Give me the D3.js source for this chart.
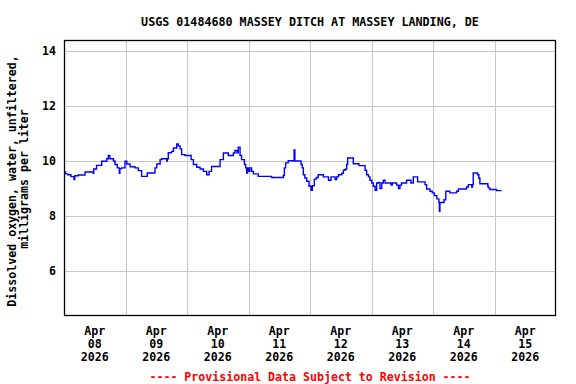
<!DOCTYPE html>
<html>
<head>
<meta charset="utf-8">
<script src="https://cdn.jsdelivr.net/npm/d3@7"></script>
<style>
  html, body { margin: 0; padding: 0; background: #fff; }
  svg text { font-family: "DejaVu Sans Mono", "Liberation Mono", monospace; font-weight: bold; }
</style>
</head>
<body>
<svg id="chart" width="576" height="384"></svg>
<script>
// ---- data ----
const titleText = "USGS 01484680 MASSEY DITCH AT MASSEY LANDING, DE";
const yLabelLines = ["Dissolved oxygen, water, unfiltered,", "milligrams per liter"];
const footerText = "---- Provisional Data Subject to Revision ----";
const startDate = "2026-04-08T00:00:00";
const endDate = "2026-04-16T00:00:00";
const dayLabels = ["Apr\n08\n2026", "Apr\n09\n2026", "Apr\n10\n2026", "Apr\n11\n2026",
                   "Apr\n12\n2026", "Apr\n13\n2026", "Apr\n14\n2026", "Apr\n15\n2026"];
const yTicks = [6, 8, 10, 12, 14];
const yDomain = [4.36, 14.4];
// hours since Apr 08 00:00
const hours = [0, 0.6, 1.5, 2.7, 3.9, 4.2, 5.6, 8.2, 11.4, 11.6, 12.7, 14.7, 16.7, 17.3, 17.9, 19.3, 19.9, 20.8, 21.6, 21.8,
  22.5, 23.8, 24.5, 25.8, 27.7, 29, 30.3, 32.5, 35.5, 36.2, 37.5, 38.1, 40.1, 40.3, 40.7, 42, 42.7, 44, 44.6, 45.3,
  45.9, 47.2, 49.6, 50.5, 51.8, 53.1, 54.4, 55.7, 56.6, 57.6, 60.9, 62.2, 64.1, 66.1, 66.7, 67.5, 68, 68.7, 69.3, 70.4,
  70.9, 71.3, 71.6, 71.9, 72.5, 73.2, 73.9, 75.8, 81, 85.6, 86, 86.5, 87.5, 89.5, 89.8, 90.1, 90.8, 92.5, 93, 93.4,
  94, 94.7, 95.6, 96.4, 96.9, 97.7, 98.5, 99.2, 101.2, 103.2, 104.2, 105.8, 106.4, 107.1, 108.4, 109, 109.7, 110.3, 110.7, 112.9,
  115.1, 117.5, 118.1, 118.8, 119.4, 120.1, 120.7, 121.4, 122, 122.7, 123.3, 124, 124.6, 125.3, 127.6, 128.1, 129.8, 130.5, 131.1, 131.7,
  133.7, 135.4, 136.3, 137.2, 138, 140.2, 140.9, 141.5, 142.8, 143.7, 144.5, 145.5, 146.3, 146.5, 146.7, 148, 148.3, 149, 150.6, 153.2,
  153.9, 157.1, 157.8, 159.1, 159.4, 159.7, 161.1, 161.4, 161.9, 162.3, 164.3, 165.4, 165.6, 166.2, 168.8, 170.8];
const oxygen = [9.6, 9.53, 9.5, 9.43, 9.32, 9.46, 9.49, 9.6, 9.55, 9.71, 9.84, 9.99, 10.08, 10.2, 10.08, 10.0, 9.87, 9.75, 9.55, 9.72,
  9.75, 9.99, 9.89, 9.79, 9.75, 9.65, 9.44, 9.56, 9.75, 9.89, 10.05, 10.08, 10.0, 10.08, 10.3, 10.35, 10.47, 10.62, 10.55, 10.44,
  10.23, 10.2, 10.05, 9.87, 9.77, 9.71, 9.62, 9.5, 9.62, 9.8, 10.05, 10.29, 10.2, 10.29, 10.38, 10.3, 10.5, 10.2, 10.05, 9.87,
  9.75, 9.56, 9.75, 9.62, 9.75, 9.62, 9.53, 9.44, 9.4, 9.47, 9.75, 9.93, 10.01, 10.01, 10.4, 10.0, 10.0, 9.87, 9.75, 9.5,
  9.38, 9.26, 9.08, 8.93, 9.1, 9.34, 9.4, 9.5, 9.42, 9.3, 9.42, 9.32, 9.42, 9.5, 9.55, 9.66, 9.7, 9.87, 10.11, 9.9,
  9.83, 9.66, 9.5, 9.42, 9.3, 9.2, 9.08, 8.93, 9.2, 9.22, 9.0, 9.2, 9.3, 9.2, 9.12, 9.2, 9.12, 9.0, 9.12, 9.2,
  9.3, 9.2, 9.42, 9.42, 9.24, 9.24, 9.14, 8.98, 8.9, 8.84, 8.74, 8.62, 8.49, 8.17, 8.49, 8.49, 8.59, 8.9, 8.84, 8.9,
  8.98, 9.05, 9.14, 9.05, 9.14, 9.56, 9.56, 9.5, 9.37, 9.17, 9.17, 9.08, 9.02, 8.96, 8.92, 8.92];

// ---- layout ----
const svg = d3.select("#chart");
const pL = 64, pR = 556, pT = 40, pB = 316;
const t0 = new Date(startDate), t1 = new Date(endDate);
const x = d3.scaleTime().domain([t0, t1]).range([pL, pR]);
const y = d3.scaleLinear().domain(yDomain).range([pB, pT]);
const data = hours.map((h, i) => ({ t: new Date(t0.getTime() + h * 3600e3), v: oxygen[i] }));

// gridlines
const days = d3.timeDay.range(d3.timeDay.offset(t0, 1), t1);
svg.append("g").selectAll("line").data(days).join("line")
  .attr("x1", d => Math.round(x(d)) + 0.5).attr("x2", d => Math.round(x(d)) + 0.5)
  .attr("y1", pT).attr("y2", pB)
  .attr("stroke", "#c8c8c8").attr("stroke-width", 1);
svg.append("g").selectAll("line").data(yTicks).join("line")
  .attr("x1", pL).attr("x2", pR)
  .attr("y1", d => Math.round(y(d)) + 0.5).attr("y2", d => Math.round(y(d)) + 0.5)
  .attr("stroke", "#c8c8c8").attr("stroke-width", 1);

// data line
svg.append("path").datum(data)
  .attr("fill", "none").attr("stroke", "#0000ff").attr("stroke-width", 1.4)
  .attr("d", d3.line().x(d => x(d.t)).y(d => y(d.v)).curve(d3.curveStepAfter));

// frame
svg.append("rect").attr("x", pL + 0.5).attr("y", pT + 0.5)
  .attr("width", pR - pL - 1).attr("height", pB - pT - 1)
  .attr("fill", "none").attr("stroke", "#000").attr("stroke-width", 1.3);

// y tick labels
svg.append("g").selectAll("text").data(yTicks).join("text")
  .attr("x", 56).attr("y", d => y(d) + 4)
  .attr("text-anchor", "end").attr("font-size", "11.6px").attr("fill", "#000")
  .text(d => d);

// x tick labels (noon of each day)
const noons = d3.timeDay.range(t0, t1).map(d => new Date(d.getTime() + 12 * 3600e3));
const xl = svg.append("g").selectAll("text").data(noons).join("text")
  .attr("x", d => x(d)).attr("y", 335)
  .attr("text-anchor", "middle").attr("font-size", "11.6px").attr("fill", "#000");
xl.each(function(d, i) {
  const lines = dayLabels[i].split("\n");
  d3.select(this).selectAll("tspan").data(lines).join("tspan")
    .attr("x", x(d)).attr("dy", (l, j) => j === 0 ? 0 : 13).text(l => l);
});

// title
svg.append("text").attr("x", 310).attr("y", 26).attr("text-anchor", "middle")
  .attr("font-size", "11.7px").attr("fill", "#000").text(titleText);

// y label
svg.append("text").attr("transform", "translate(16,181) rotate(-90)")
  .attr("text-anchor", "middle").attr("font-size", "11.6px").attr("fill", "#000")
  .text(yLabelLines[0]);
svg.append("text").attr("transform", "translate(28,179) rotate(-90)")
  .attr("text-anchor", "middle").attr("font-size", "11.6px").attr("fill", "#000")
  .text(yLabelLines[1]);

// footer
svg.append("text").attr("x", 310).attr("y", 381).attr("text-anchor", "middle")
  .attr("font-size", "11.6px").attr("fill", "#ff0000").text(footerText);
</script>
</body>
</html>
